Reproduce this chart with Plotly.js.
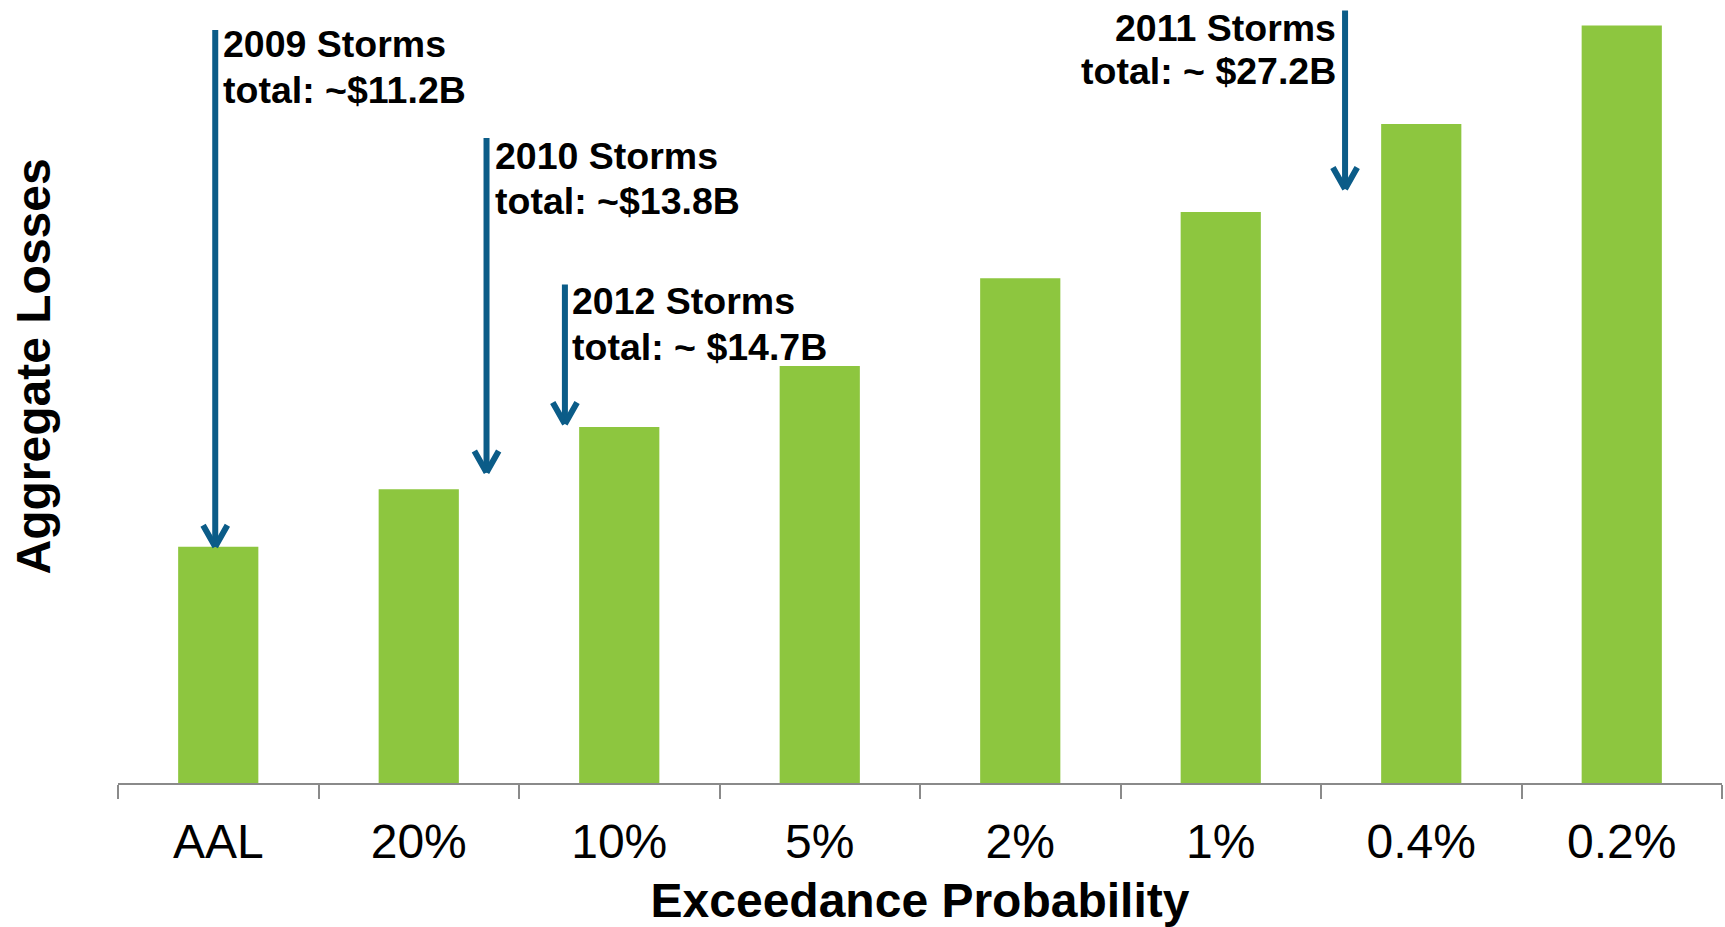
<!DOCTYPE html>
<html>
<head>
<meta charset="utf-8">
<script src="https://cdn.plot.ly/plotly-3.0.1.min.js"></script>
<style>
html,body{margin:0;padding:0;background:#fff;}
#chart{width:1725px;height:927px;}
</style>
</head>
<body>
<div id="chart"></div>
<script>
// Categories (exceedance probability) and estimated aggregate losses (relative units)
var categories = ["AAL", "20%", "10%", "5%", "2%", "1%", "0.4%", "0.2%"];
var losses = [10.74, 13.35, 16.18, 18.95, 22.94, 25.95, 29.95, 34.43];

// Storm-year annotation texts
var stormTitles = ["2009 Storms", "2010 Storms", "2012 Storms", "2011 Storms"];
var stormTotals = ["total: ~$11.2B", "total: ~$13.8B", "total: ~ $14.7B", "total: ~ $27.2B"];

var FONT = 'Arial, "Liberation Sans", sans-serif';
var ARROW = '#0B5C88';

var trace = {
  type: 'bar',
  x: categories,
  y: losses,
  marker: {color: '#8DC63F', line: {width: 0}},
  width: 0.4,
  hoverinfo: 'x+y'
};

// arrow geometry in axis units: [x index, head y, tail y]
var arrows = [
  [-0.015, 10.74, 34.30],
  [1.338, 14.11, 29.38],
  [1.729, 16.32, 22.73],
  [5.620, 27.00, 35.18]
];
// label anchors: [x index, line-1 y, line-2 y, xanchor]
var labelPos = [
  [0.014, 33.58, 31.52, 'left'],
  [1.369, 28.50, 26.44, 'left'],
  [1.753, 21.93, 19.81, 'left'],
  [5.585, 34.34, 32.38, 'right']
];

var annotations = [];
arrows.forEach(function (a) {
  // shaft
  annotations.push({
    x: a[0], y: a[1], xref: 'x', yref: 'y',
    ax: a[0], ay: a[2], axref: 'x', ayref: 'y',
    text: '', showarrow: true, arrowhead: 0, arrowwidth: 6, arrowcolor: ARROW,
    standoff: 0, startstandoff: 0
  });
  // chevron arms
  [-13, 13].forEach(function (dx) {
    annotations.push({
      x: a[0], y: a[1], xref: 'x', yref: 'y',
      ax: dx, ay: -23,
      text: '', showarrow: true, arrowhead: 0, arrowwidth: 6, arrowcolor: ARROW,
      standoff: 0, startstandoff: 0
    });
  });
});
labelPos.forEach(function (p, i) {
  [[stormTitles[i], p[1]], [stormTotals[i], p[2]]].forEach(function (ln) {
    annotations.push({
      x: p[0], y: ln[1], xref: 'x', yref: 'y',
      text: '<b>' + ln[0] + '</b>',
      showarrow: false, xanchor: p[3], yanchor: 'middle', align: p[3],
      font: {family: FONT, size: 37.5, color: '#000'}
    });
  });
});
// y-axis title as annotation
annotations.push({
  x: -0.053, y: 0.532, xref: 'paper', yref: 'paper',
  text: '<b>Aggregate Losses</b>', textangle: -90, showarrow: false,
  xanchor: 'center', yanchor: 'middle',
  font: {family: FONT, size: 48, color: '#000'}
});

var layout = {
  width: 1725, height: 927,
  margin: {l: 118, r: 3, t: 0, b: 144, pad: 0},
  paper_bgcolor: '#fff', plot_bgcolor: '#fff',
  showlegend: false,
  font: {family: FONT, color: '#000'},
  xaxis: {
    type: 'category',
    range: [-0.5, 7.5],
    showline: true, linecolor: '#8A8A8A', linewidth: 2,
    ticks: 'outside', tickson: 'boundaries', ticklen: 14, tickwidth: 2, tickcolor: '#8A8A8A',
    showgrid: false, zeroline: false,
    tickfont: {family: FONT, size: 48, color: '#000'},
    ticklabelstandoff: 15,
    title: {text: 'Exceedance Probability', standoff: 19,
            font: {family: FONT, size: 48, color: '#000', weight: 'bold'}},
    fixedrange: true
  },
  yaxis: {
    range: [0, 35.59],
    showticklabels: false, showgrid: false, zeroline: false, showline: false,
    ticks: '', fixedrange: true
  },
  annotations: annotations
};

Plotly.newPlot('chart', [trace], layout, {displayModeBar: false, staticPlot: true});
</script>
</body>
</html>
